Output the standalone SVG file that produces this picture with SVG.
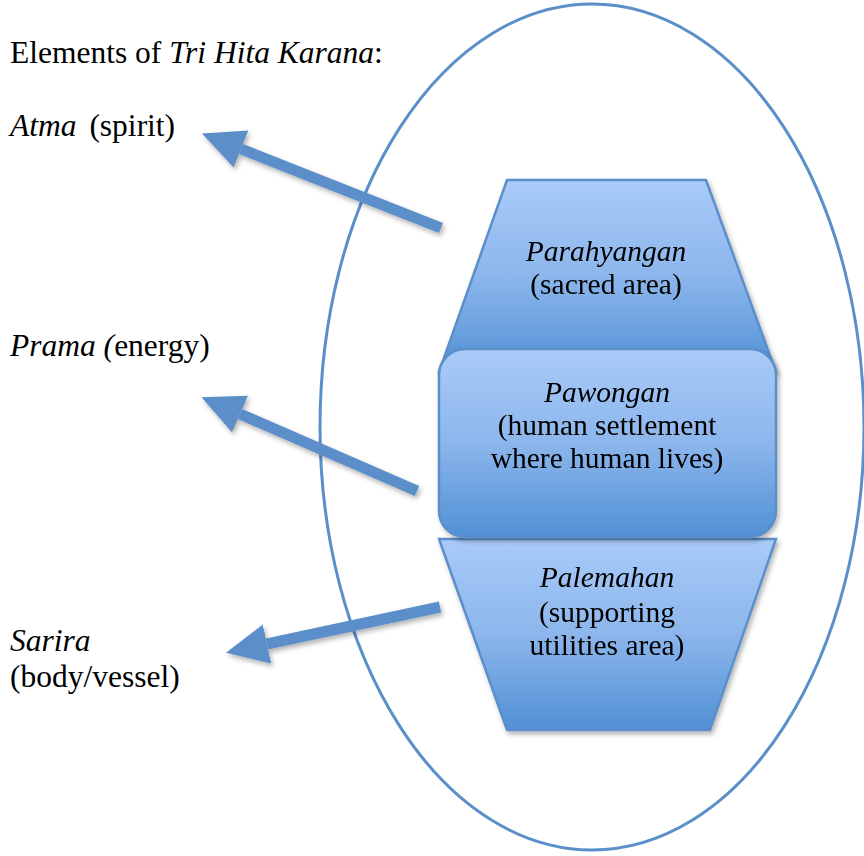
<svg xmlns="http://www.w3.org/2000/svg" width="864" height="856" viewBox="0 0 864 856">
<style>
text{font-family:"Liberation Serif","Times New Roman",serif;fill:#000}
.i{font-style:italic}
.c{text-anchor:middle}
.in{font-size:29.5px}
.lb{font-size:31.5px}
.shape{fill:url(#g);stroke:#5b8fca;stroke-width:2.5}
.arr{stroke:#5b8fc9;stroke-width:11;fill:none;marker-end:url(#ah)}
</style>
<defs>
<linearGradient id="g" x1="0" y1="0" x2="0" y2="1">
<stop offset="0" stop-color="#a9cbf9"/>
<stop offset="0.5" stop-color="#8cb6ec"/>
<stop offset="1" stop-color="#5190d4"/>
</linearGradient>
<filter id="sh" filterUnits="userSpaceOnUse" x="0" y="0" width="864" height="856">
<feDropShadow dx="2" dy="3" stdDeviation="2.5" flood-color="#000" flood-opacity="0.3"/>
</filter>
<marker id="ah" markerUnits="userSpaceOnUse" markerWidth="44" markerHeight="42" refX="0" refY="20" orient="auto">
<path d="M0,0 L42,20 L0,40 Z" fill="#5b8fc9"/>
</marker>
</defs>
<ellipse cx="592" cy="427" rx="272" ry="423" fill="none" stroke="#5b8fc9" stroke-width="3"/>
<g id="parahyangan" filter="url(#sh)">
<polygon class="shape" points="507,180 706,180 776,372 439,372"/>
<text class="c i in" x="606" y="261">Parahyangan</text>
<text class="c in" x="606" y="294">(sacred area)</text>
</g>
<g id="palemahan" filter="url(#sh)">
<polygon class="shape" points="439,539 776,539 710,730 507,730"/>
<text class="c i in" x="607" y="587">Palemahan</text>
<text class="c in" x="607" y="622">(supporting</text>
<text class="c in" x="607" y="655">utilities area)</text>
</g>
<g id="pawongan" filter="url(#sh)">
<rect class="shape" x="439" y="349" width="337" height="188" rx="26" ry="26"/>
<text class="c i in" x="607" y="402">Pawongan</text>
<text class="c in" x="607" y="435">(human settlement</text>
<text class="c in" x="607" y="468">where human lives)</text>
</g>
<g id="labels">
<text class="lb" x="10" y="63">Elements of <tspan class="i">Tri Hita Karana</tspan>:</text>
<text class="lb" x="10" y="136"><tspan class="i">Atma</tspan> <tspan dx="5">(spirit)</tspan></text>
<text class="lb" x="10" y="356"><tspan class="i">Prama (</tspan>energy)</text>
<text class="lb i" x="10" y="651">Sarira</text>
<text class="lb" x="10" y="687">(body/vessel)</text>
</g>
<g id="connectors" filter="url(#sh)">
<line class="arr" x1="441" y1="228" x2="241" y2="149"/>
<line class="arr" x1="417" y1="491" x2="240" y2="414"/>
<line class="arr" x1="440" y1="607" x2="267" y2="644"/>
</g>
</svg>
